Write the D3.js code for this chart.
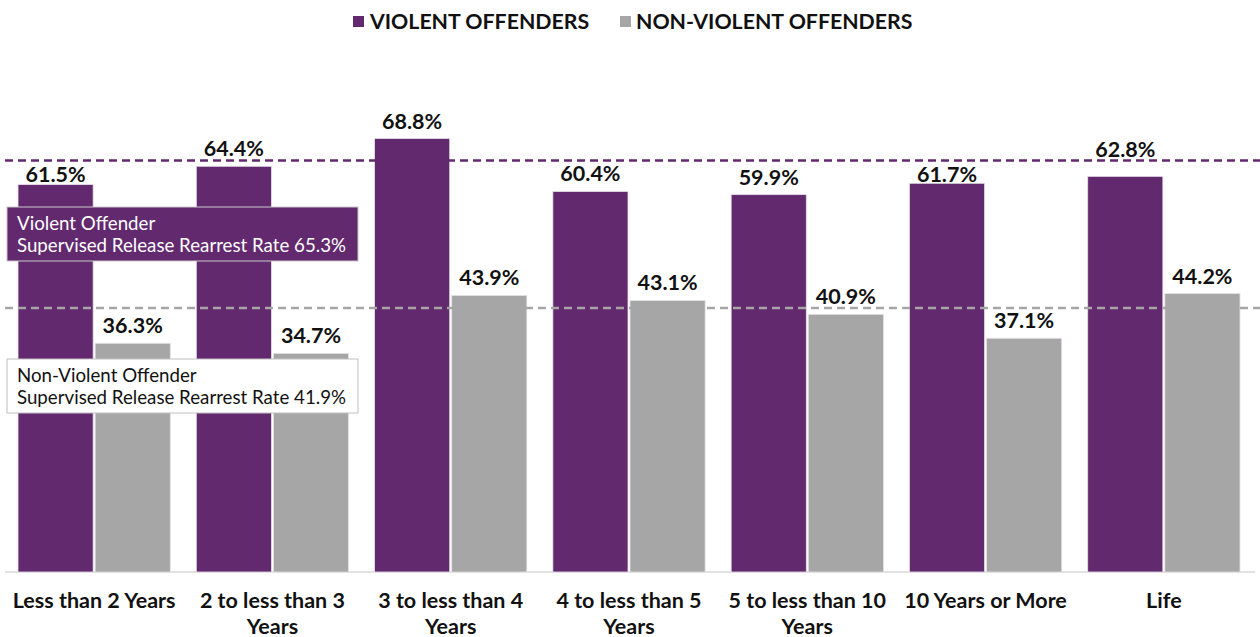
<!DOCTYPE html>
<html>
<head>
<meta charset="utf-8">
<script src="https://cdn.jsdelivr.net/npm/d3@7"></script>
<style>
  html, body { margin: 0; padding: 0; background: #fff; }
  svg { display: block; font-family: Lato, "Open Sans", sans-serif; }
</style>
</head>
<body>
<svg id="chart" width="1260" height="637"></svg>
<script>
// Sentence length categories
const categories = [
  "Less than 2 Years",
  "2 to less than 3 Years",
  "3 to less than 4 Years",
  "4 to less than 5 Years",
  "5 to less than 10 Years",
  "10 Years or More",
  "Life"
];
// Rearrest rates (%)
const violent    = [61.5, 64.4, 68.8, 60.4, 59.9, 61.7, 62.8];
const nonViolent = [36.3, 34.7, 43.9, 43.1, 40.9, 37.1, 44.2];
const seriesNames = ["VIOLENT OFFENDERS", "NON-VIOLENT OFFENDERS"];
// Overall supervised release rearrest rates (%)
const overallRates = [65.3, 41.9];
const overallLabels = [
  ["Violent Offender", "Supervised Release Rearrest Rate 65.3%"],
  ["Non-Violent Offender", "Supervised Release Rearrest Rate 41.9%"]
];

const colors = ["#63296F", "#A6A6A6"];

const svg = d3.select("#chart");
const baseY = 572;
const valueFont = 21.5;

const y = d3.scaleLinear().domain([0, 80]).range([baseY, 68]);
const x0 = d3.scaleBand().domain(categories).range([5, 1253])
  .paddingInner(0.146).paddingOuter(0.073);
const x1 = d3.scaleBand().domain([0, 1]).range([0, x0.bandwidth()]).paddingInner(0.026);

const rows = categories.map((c, i) => ({ cat: c, vals: [violent[i], nonViolent[i]] }));

// Baseline
svg.append("line")
  .attr("x1", 5).attr("x2", 1255)
  .attr("y1", baseY).attr("y2", baseY)
  .attr("stroke", "#d9d9d9").attr("stroke-width", 1.5);

// Bars
const groups = svg.selectAll("g.grp").data(rows).join("g")
  .attr("class", "grp")
  .attr("transform", d => `translate(${x0(d.cat)},0)`);

groups.selectAll("rect").data(d => d.vals.map((v, k) => ({ v, k }))).join("rect")
  .attr("x", d => x1(d.k))
  .attr("width", x1.bandwidth())
  .attr("y", d => y(d.v))
  .attr("height", d => y(0) - y(d.v))
  .attr("fill", d => colors[d.k])
  .attr("stroke", "#e6e0e8")
  .attr("stroke-width", 0.8);

// Value labels sit above each bar; a label that would collide with the
// overall-rate line of its series is nudged to the nearer side of the line.
function labelBaseline(v, k) {
  const gap = 10;
  const capH = valueFont * 0.72;
  let base = y(v) - gap;
  const lineY = y(overallRates[k]);
  const top = base - capH;
  if (top < lineY + 3 && base > lineY - 3) {
    const center = base - capH / 2;
    base = center > lineY ? lineY + 6 + capH : lineY - 4;
  }
  return base;
}

groups.selectAll("text.val").data(d => d.vals.map((v, k) => ({ v, k }))).join("text")
  .attr("class", "val")
  .attr("x", d => x1(d.k) + x1.bandwidth() / 2)
  .attr("y", d => labelBaseline(d.v, d.k))
  .attr("text-anchor", "middle")
  .attr("font-size", valueFont)
  .attr("font-weight", 700)
  .attr("fill", "#111")
  .text(d => d.v.toFixed(1) + "%");

// Overall rate reference lines
svg.selectAll("line.ref").data(overallRates).join("line")
  .attr("class", "ref")
  .attr("x1", 5).attr("x2", 1260)
  .attr("y1", d => y(d)).attr("y2", d => y(d))
  .attr("stroke", (d, i) => colors[i])
  .attr("stroke-width", 2.5)
  .attr("stroke-dasharray", "8,5");

// Reference line callout boxes
const boxes = [
  { top: 207, fill: colors[0], stroke: "#c8c8c8", text: "#fff", lines: overallLabels[0] },
  { top: 359, fill: "#fff", stroke: "#bfbfbf", text: "#111", lines: overallLabels[1] }
];
boxes.forEach(b => {
  svg.append("rect")
    .attr("x", 7).attr("y", b.top)
    .attr("width", 351).attr("height", 54)
    .attr("fill", b.fill).attr("stroke", b.stroke).attr("stroke-width", 1);
  b.lines.forEach((t, j) => {
    svg.append("text")
      .attr("x", 17).attr("y", b.top + 23 + j * 22)
      .attr("font-size", 18.7)
      .attr("fill", b.text)
      .text(t);
  });
});

// Category axis labels, wrapped to the group width
const axisFont = 21.5;
function wrapWords(text, maxWidth, measure) {
  const words = text.split(" ");
  const lines = [];
  let cur = "";
  words.forEach(w => {
    const test = cur ? cur + " " + w : w;
    if (measure(test) > maxWidth && cur) { lines.push(cur); cur = w; }
    else cur = test;
  });
  lines.push(cur);
  return lines;
}
const probe = svg.append("text").attr("font-size", axisFont).attr("font-weight", 700).attr("visibility", "hidden");
const measure = s => { probe.text(s); return probe.node().getComputedTextLength(); };

rows.forEach(r => {
  const lines = wrapWords(r.cat, 174, measure);
  const t = svg.append("text")
    .attr("text-anchor", "middle")
    .attr("font-size", axisFont)
    .attr("font-weight", 700)
    .attr("fill", "#111");
  lines.forEach((ln, j) => {
    t.append("tspan")
      .attr("x", x0(r.cat) + x0.bandwidth() / 2)
      .attr("y", 608 + j * 26)
      .text(ln);
  });
});
probe.remove();

// Legend
const legend = [
  { name: seriesNames[0], sx: 353, tx: 370 },
  { name: seriesNames[1], sx: 620, tx: 636 }
];
legend.forEach((l, i) => {
  svg.append("rect").attr("x", l.sx).attr("y", 16).attr("width", 11).attr("height", 11)
    .attr("fill", colors[i]);
  svg.append("text").attr("x", l.tx).attr("y", 29)
    .attr("font-size", 21.3).attr("font-weight", 700).attr("fill", "#111")
    .text(l.name);
});
</script>
</body>
</html>
